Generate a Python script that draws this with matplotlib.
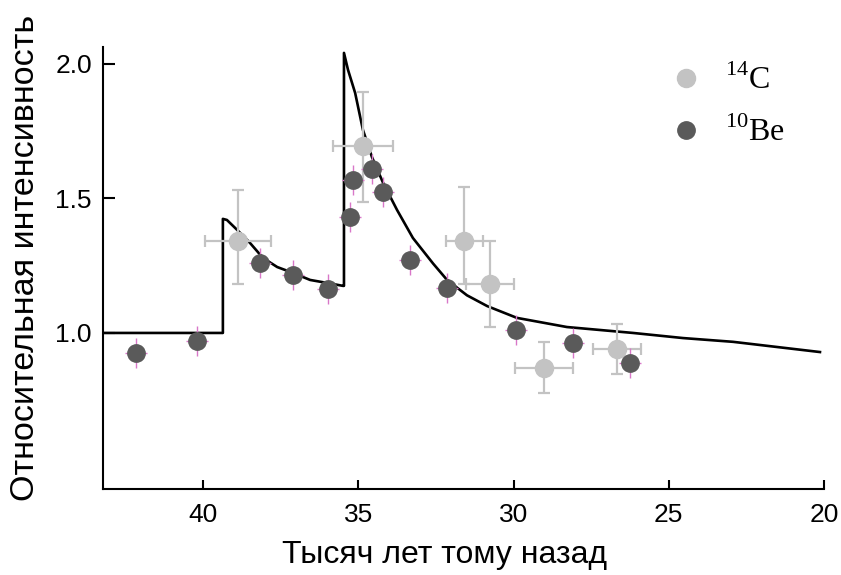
import numpy as np
import matplotlib.pyplot as plt
from matplotlib.lines import Line2D

plt.rcParams['font.family'] = ['Liberation Sans', 'DejaVu Sans']
plt.rcParams['mathtext.fontset'] = 'custom'
plt.rcParams['mathtext.rm'] = 'Liberation Serif'

# модельная кривая (тыс. лет назад, относительная интенсивность)
model_x = [43.22, 39.36, 39.36, 39.23, 38.90, 38.49, 38.07, 37.61, 37.10, 36.55, 36.01, 35.49,
           35.46, 35.46, 35.33, 35.10, 34.85, 34.56, 34.20, 33.75, 33.24, 32.59, 32.14, 31.50,
           30.85, 29.89, 28.28, 26.15, 24.54, 22.93, 20.13]
model_y = [1.0, 1.0, 1.424, 1.420, 1.383, 1.335, 1.279, 1.245, 1.223, 1.197, 1.186, 1.175,
           1.175, 2.041, 1.978, 1.892, 1.755, 1.654, 1.558, 1.457, 1.353, 1.258, 1.197, 1.140,
           1.100, 1.056, 1.022, 1.000, 0.981, 0.967, 0.929]

# 10Be
be_x = [42.16, 40.19, 38.16, 37.10, 35.97, 35.27, 35.17, 34.56, 34.20, 33.33, 32.14, 29.92, 28.08, 26.25]
be_y = [0.926, 0.970, 1.260, 1.216, 1.164, 1.431, 1.569, 1.610, 1.524, 1.271, 1.167, 1.011, 0.963, 0.888]

# 14C
c_x = [38.87, 34.85, 31.59, 30.76, 29.02, 26.67]
c_y = [1.342, 1.695, 1.342, 1.182, 0.870, 0.941]
c_xerr = [1.05, 0.97, 0.60, 0.78, 0.93, 0.77]
c_yerr_lo = [0.16, 0.21, 0.16, 0.16, 0.095, 0.093]
c_yerr_hi = [0.19, 0.20, 0.20, 0.16, 0.095, 0.093]

be_col = '#5a5a5a'
c_col = '#c3c3c3'

fig = plt.figure(figsize=(8.41, 5.75), dpi=100)
ax = fig.add_axes([0.1225, 0.1496, 0.8573, 0.7687])

ax.plot(model_x, model_y, color='black', lw=1.9, zorder=2)

ax.errorbar(c_x, c_y, xerr=c_xerr, yerr=[c_yerr_lo, c_yerr_hi], fmt='o', color=c_col,
            ecolor=c_col, elinewidth=1.6, capsize=4.5, capthick=1.6, ms=13, zorder=3)
ax.errorbar(be_x, be_y, xerr=0.35, yerr=0.055, fmt='o', color=be_col, ecolor='#d877c8',
            elinewidth=1.0, capsize=0, ms=12.5, zorder=4)

ax.set_xlim(43.22, 20)
ax.set_ylim(0.42, 2.063)
ax.set_xticks([40, 35, 30, 25, 20])
ax.set_yticks([1.0, 1.5, 2.0])
ax.set_yticklabels(['1.0', '1.5', '2.0'])

for s in ['top', 'right']:
    ax.spines[s].set_visible(False)
for s in ['left', 'bottom']:
    ax.spines[s].set_linewidth(1.5)
ax.tick_params(axis='both', direction='in', width=1.5, labelsize=19)
ax.tick_params(axis='y', length=8.5, pad=8)
ax.tick_params(axis='x', length=6.5, pad=10)

ax.set_xlabel('Тысяч лет тому назад', fontsize=23, va='center')
ax.set_ylabel('Относительная интенсивность', fontsize=24.5, va='center')
ax.xaxis.set_label_coords(0.474, -0.149)
ax.yaxis.set_label_coords(-0.108, 0.522)

handles = [Line2D([], [], marker='o', ls='', color=c_col, ms=13),
           Line2D([], [], marker='o', ls='', color=be_col, ms=12.5)]
ax.legend(handles, [r'$^{14}$C', r'$^{10}$Be'], loc='upper left', bbox_to_anchor=(0.725, 1.025),
          frameon=False, handletextpad=0.2, labelspacing=0.65,
          prop={'family': 'Liberation Serif', 'size': 23})

fig.savefig('out.png', dpi=100)
